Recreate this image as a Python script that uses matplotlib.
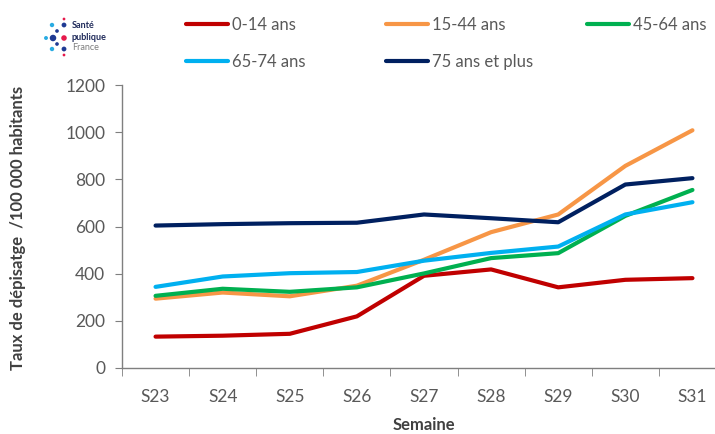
import matplotlib.pyplot as plt

# semaines et taux de depistage (pour 100 000 habitants)
semaines = ["S23", "S24", "S25", "S26", "S27", "S28", "S29", "S30", "S31"]
age_0_14 = [133, 137, 145, 219, 391, 418, 342, 374, 381]
age_15_44 = [294, 320, 304, 349, 459, 576, 651, 857, 1008]
age_45_64 = [306, 336, 323, 342, 401, 466, 487, 645, 755]
age_65_74 = [344, 388, 402, 407, 455, 488, 515, 651, 703]
age_75_plus = [604, 610, 614, 616, 651, 635, 618, 778, 805]

labels = ["0-14 ans", "15-44 ans", "45-64 ans", "65-74 ans", "75 ans et plus"]
couleurs = ["#C00000", "#F79646", "#00B050", "#00B0F0", "#002060"]

plt.rcParams['font.family'] = ['Lato', 'DejaVu Sans']

W, H = 715, 434
fig = plt.figure(figsize=(W / 100, H / 100), dpi=100)
ax = fig.add_axes([122 / W, 66 / H, (726 - 122) / W, 283 / H])

series = [age_0_14, age_15_44, age_45_64, age_65_74, age_75_plus]
x = list(range(len(semaines)))
lignes = []
for vals, lab, c in zip(series, labels, couleurs):
    l, = ax.plot(x, vals, color=c, lw=3, label=lab, solid_capstyle='round')
    lignes.append(l)

ax.set_ylim(0, 1200)
ax.set_yticks(range(0, 1201, 200))
ax.set_xlim(-0.5, len(semaines) - 0.5)
ax.set_xticks(x)
ax.set_xticklabels(semaines)
ax.set_xticks([i - 0.5 for i in range(len(semaines) + 1)], minor=True)

gris = "#595959"
for s in ["top", "right"]:
    ax.spines[s].set_visible(False)
for s in ["left", "bottom"]:
    ax.spines[s].set_color("#7F7F7F")
    ax.spines[s].set_linewidth(1)
ax.tick_params(axis='y', length=5, color="#7F7F7F", labelsize=12.5, labelcolor=gris, pad=7)
ax.tick_params(axis='x', which='major', length=0, labelsize=12.5, labelcolor=gris, pad=15)
ax.tick_params(axis='x', which='minor', length=6, color="#7F7F7F")

ax.set_xlabel("Semaine", fontsize=12, fontweight='bold', color="#404040", labelpad=9)
fig.text(18 / W, 1 - 228 / H, "Taux de dépisatge  /100 000 habitants", rotation=90,
         ha='center', va='center', fontsize=12, fontweight='bold', color="#404040")

# legende en trois colonnes
colonnes = [[0, 3], [1, 4], [2]]
x_col = [185, 385, 586]
for idx, xc in zip(colonnes, x_col):
    leg = fig.legend([lignes[i] for i in idx], [labels[i] for i in idx],
                     loc='upper left', bbox_to_anchor=(xc / W - 0.0085, 1 - 10 / H),
                     frameon=False, fontsize=12, handlelength=2.55,
                     handletextpad=0.25, labelspacing=1.3, borderaxespad=0)
    for t in leg.get_texts():
        t.set_color(gris)

# logo Sante publique France
lax = fig.add_axes([0, 1 - 70 / H, 140 / W, 70 / H])
lax.set_xlim(0, 140)
lax.set_ylim(70, 0)
lax.axis('off')
dots_x = [53, 46, 64, 64, 64, 52, 52, 57, 57, 64, 64]
dots_y = [38, 38, 38, 25, 49, 25, 49, 31, 44, 19, 55]
dots_s = [22, 8, 16, 12, 12, 10, 10, 7, 7, 4, 4]
dots_c = ["#1F3A93", "#29ABE2", "#E6194B", "#1F3A93", "#1F3A93", "#29ABE2", "#29ABE2",
          "#1F3A93", "#1F3A93", "#E6194B", "#E6194B"]
lax.scatter(dots_x, dots_y, s=dots_s, c=dots_c, linewidths=0)
lax.text(72, 26, "Santé", fontsize=6.5, fontweight='bold', color="#1F2A5A", va='center')
lax.text(72, 37, "publique", fontsize=6.5, fontweight='bold', color="#1F2A5A", va='center')
lax.text(72, 48, "France", fontsize=6.5, color="#7F7F7F", va='center')

fig.savefig("out.png", dpi=100)
